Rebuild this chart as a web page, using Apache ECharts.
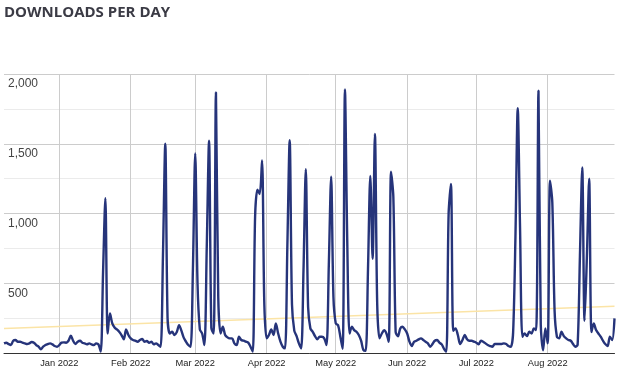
<!DOCTYPE html>
<html>
<head>
<meta charset="utf-8">
<script src="https://cdn.jsdelivr.net/npm/echarts@6/dist/echarts.min.js"></script>
<style>
html,body{margin:0;padding:0;background:#fff;}
#chart{width:622px;height:375px;}
</style>
</head>
<body>
<div id="chart"></div>
<script>
// first day of the series and daily downloads (one value per day)
var startDate = '2021-12-08';
var downloads = [
  69,74,64,57,88,93,81,81,74,69,64,69,79,74,57,45,26,45,57,64,
  69,62,50,45,57,74,76,74,88,124,88,64,81,88,74,69,62,69,62,57,
  69,62,10,580,1110,140,283,212,183,169,152,129,98,169,129,105,93,88,81,93,
  100,81,86,74,81,62,69,57,45,700,1500,250,140,152,129,150,200,160,110,81,
  57,45,600,1430,500,170,140,57,750,1521,180,140,1867,400,140,188,129,112,105,105,
  69,57,117,93,88,81,74,45,10,980,1170,1140,1380,350,105,129,169,129,212,140,
  81,45,33,770,1526,350,160,121,69,33,593,1317,330,176,152,121,98,117,117,105,
  57,636,1264,400,212,200,117,30,1890,800,140,188,164,152,129,88,21,15,600,1270,
  676,1570,350,105,140,164,140,81,1300,1120,150,120,176,188,169,140,81,50,81,88,
  98,105,93,81,69,45,64,88,93,74,62,30,10,1000,1212,160,176,129,64,93,
  129,98,88,88,81,74,62,88,81,69,57,50,45,64,64,64,64,69,64,50,
  45,150,830,1755,900,117,140,121,152,140,176,164,1880,200,20,176,69,1236,1080,300,
  117,105,152,121,105,93,88,64,45,60,700,1330,230,680,1250,150,212,164,140,117,
  88,64,50,117,93,248
];
// trend line end values (first day, last day)
var trendStart = 176;
var trendEnd = 336;
var monthNames = ['Jan','Feb','Mar','Apr','May','Jun','Jul','Aug','Sep','Oct','Nov','Dec'];
var yTickLabels = [500, 1000, 1500, 2000];

// build the day categories
var days = [];
(function(){
  var p = startDate.split('-');
  var d = new Date(Date.UTC(+p[0], +p[1]-1, +p[2]));
  for (var i = 0; i < downloads.length; i++) {
    var y = d.getUTCFullYear(), m = d.getUTCMonth()+1, dd = d.getUTCDate();
    days.push(y + '-' + (m<10?'0':'') + m + '-' + (dd<10?'0':'') + dd);
    d.setUTCDate(d.getUTCDate()+1);
  }
})();
var trend = days.map(function(_, i){
  if (i === 0) return trendStart;
  if (i === days.length-1) return trendEnd;
  return null;
});
function isMonthStart(idx, val){ return /-01$/.test(val); }

var chart = echarts.init(document.getElementById('chart'), null, {renderer:'canvas'});
chart.setOption({
  animation: false,
  title: {
    text: 'DOWNLOADS PER DAY',
    left: 4, top: 5, padding: 0,
    textStyle: {fontFamily: 'Open Sans', fontWeight: 'bold', fontSize: 15, color: '#3b3b45'}
  },
  grid: {left: 4, right: 7.5, top: 74, bottom: 22, containLabel: false},
  xAxis: {
    type: 'category',
    data: days,
    boundaryGap: false,
    axisLine: {lineStyle: {color: '#333', width: 1}},
    axisTick: {show: false},
    axisLabel: {
      interval: isMonthStart,
      formatter: function(v){ var p = v.split('-'); return monthNames[+p[1]-1] + ' ' + p[0]; },
      fontFamily: 'Liberation Sans, Arial', fontSize: 9.3, color: '#222', margin: 6
    },
    splitLine: {show: true, interval: isMonthStart, lineStyle: {color: '#cccccc', width: 1}}
  },
  yAxis: {
    type: 'value',
    min: 0, max: 2000, interval: 250,
    axisLine: {show: false},
    axisTick: {show: false},
    axisLabel: {
      inside: true, margin: 4, verticalAlign: 'top', padding: [4,0,0,0],
      fontFamily: 'Liberation Sans, Arial', fontSize: 12, color: '#444',
      formatter: function(v){ return yTickLabels.indexOf(v) >= 0 ? v.toLocaleString('en-US') : ''; }
    },
    splitLine: {lineStyle: {color: ['#cccccc', '#ebebeb'], width: 1}}
  },
  series: [
    {
      type: 'line', data: trend, connectNulls: true, symbol: 'none', silent: true,
      lineStyle: {color: '#fbe4a6', width: 1.5}, z: 1
    },
    {
      type: 'line', data: downloads, smooth: 0.3, symbol: 'none', showSymbol: false,
      lineStyle: {color: '#26347a', width: 2.4}, z: 3
    }
  ]
});
</script>
</body>
</html>
